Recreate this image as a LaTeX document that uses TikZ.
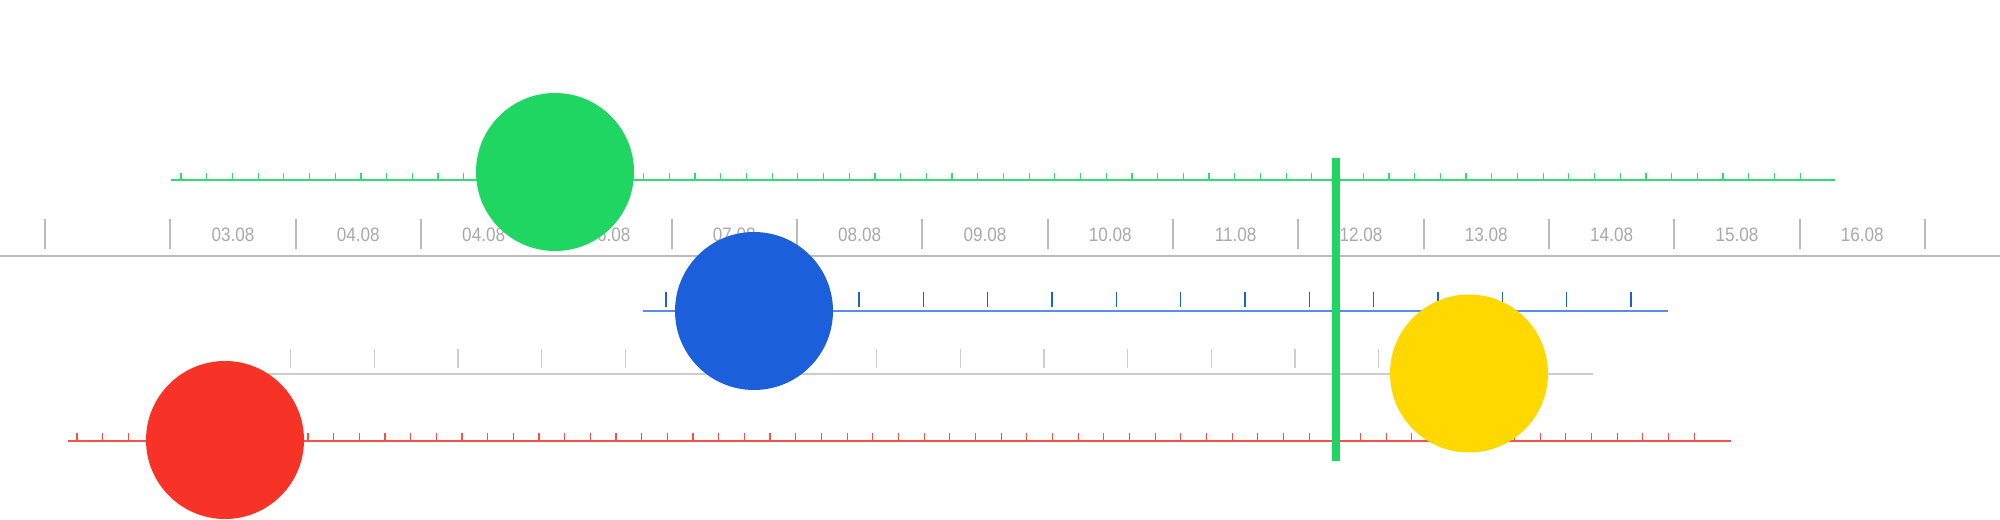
\documentclass[tikz,border=0pt]{standalone}
\usepackage{xcolor}
\usepackage{tikz}
\usepackage{fontspec}
\newfontfamily\axisfont[FakeStretch=0.88]{Liberation Sans}

\definecolor{axisgray}{RGB}{187,187,187}
\definecolor{labelgray}{RGB}{170,170,170}
\definecolor{rowgray}{RGB}{205,205,205}
\definecolor{tlgreen}{RGB}{31,214,98}
\definecolor{tlgreenline}{RGB}{50,221,112}
\definecolor{tlblue}{RGB}{27,95,219}
\definecolor{tlblueline}{RGB}{90,140,235}
\definecolor{tlred}{RGB}{247,51,39}
\definecolor{tlredline}{RGB}{246,82,74}
\definecolor{tlyellow}{RGB}{255,216,0}

\tikzset{
  bubble/.style={circle, minimum size=118.5pt, inner sep=0pt, draw=none},
  daylabel/.style={text=labelgray, font=\axisfont\fontsize{14.6}{16}\selectfont, inner sep=0.75pt}
}

\begin{document}
\begin{tikzpicture}[x=0.75pt,y=0.75pt,yscale=-1,xscale=1]
\useasboundingbox (0,0) rectangle (2000,520);

        \draw [color=axisgray, line width=1.5] (0,256.3) -- (2000,256.3) ;
        \foreach \i in {0,...,15}
            \draw [color=axisgray, line width=1.5] ({45+125.33*\i},219) -- ({45+125.33*\i},249) ;

        \draw [color=tlgreenline, line width=1.1] (171,180) -- (1835,180) ;
        \foreach \i in {0,...,63}
            \draw [color=tlgreenline, line width=0.9] ({181+25.7*\i},173) -- ({181+25.7*\i},180) ;

        \draw [color=tlblueline, line width=1.2] (643,311) -- (1668,311) ;
        \foreach \i in {0,...,15}
            \draw [color=tlblue, line width=0.9] ({666+64.33*\i},292) -- ({666+64.33*\i},307) ;

        \draw [color=rowgray, line width=1.2] (255,374) -- (1593,374) ;
        \foreach \i in {0,...,13}
            \draw [color=rowgray, line width=0.9] ({290.6+83.7*\i},349) -- ({290.6+83.7*\i},368) ;

        \draw [color=tlredline, line width=1.2] (68,440.7) -- (1731,440.7) ;
        \foreach \i in {0,...,63}
            \draw [color=tlredline, line width=0.9] ({77+25.67*\i},433) -- ({77+25.67*\i},440) ;

        \foreach \i/\t in {1/03.08, 2/04.08, 3/04.08, 4/06.08, 5/07.08, 6/08.08, 7/09.08, 8/10.08, 9/11.08, 10/12.08, 11/13.08, 12/14.08, 13/15.08, 14/16.08}
            \draw ({45+125.33*(\i+0.5)},235) node [daylabel] (day\i) {\t};

        \fill [color=tlgreen] (1332.3,157.7) rectangle (1340,461) ;

        \node [bubble, fill=tlgreen] (green) at (555,172) {};
        \node [bubble, fill=tlblue] (blue) at (754,311) {};
        \node [bubble, fill=tlred] (red) at (225,440) {};
        \node [bubble, fill=tlyellow] (yellow) at (1469,373.5) {};
    \end{tikzpicture}
\end{document}
